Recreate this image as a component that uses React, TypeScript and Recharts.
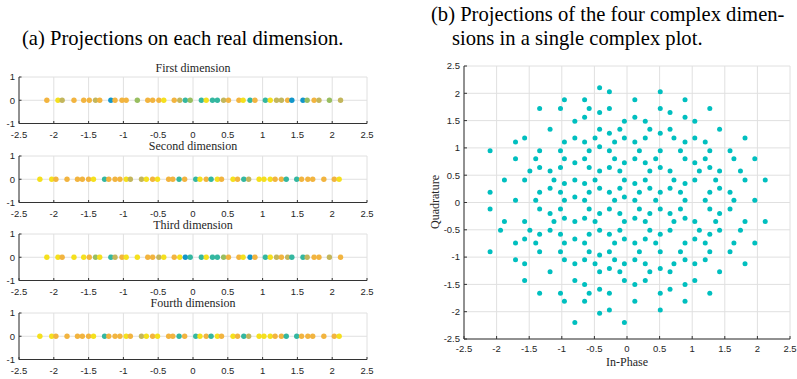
import React from "react";
import { ScatterChart, Scatter, XAxis, YAxis, CartesianGrid } from "recharts";

// distinct in-phase / quadrature levels seen in the projections
const inPhase = [
  -2.1, -1.94, -1.88, -1.71, -1.57, -1.49, -1.4, -1.34, -1.18, -1.12, -1.02, -0.96, -0.8, -0.65, -0.58,
  -0.49, -0.42, -0.27, -0.19, -0.11, -0.04, 0.12, 0.19, 0.28, 0.35, 0.44, 0.51, 0.66, 0.72, 0.82, 0.89,
  1.04, 1.11, 1.2, 1.27, 1.36, 1.42, 1.58, 1.64, 1.74, 1.81, 1.96, 2.12,
];
const quadrature = [
  -2.2, -2.03, -1.97, -1.81, -1.66, -1.59, -1.5, -1.43, -1.27, -1.21, -1.12, -1.05, -0.96, -0.9, -0.74,
  -0.67, -0.58, -0.51, -0.35, -0.29, -0.2, -0.12, 0.04, 0.1, 0.19, 0.26, 0.35, 0.41, 0.575, 0.64, 0.73,
  0.8, 0.95, 1.02, 1.11, 1.18, 1.27, 1.34, 1.49, 1.56, 1.65, 1.72, 1.88, 2.03, 2.1,
];

// colour class of each dot in the four strips (Y yellow, O orange, L olive, G green, T teal, B blue)
const dim1Tone = "OYLOOOLOBOOOGOOOYOLTGTYTTLOOYTOTYLLOBBGOLGL";
const dim2Tone = "YYOOOOOYTOOOYLLYOYOOTOTYOTYOYOTLYYYOOTTOOOOOY";
const dim3Tone = "YYOYYOGYTLOYYOOLYOYBTTYTTGOOYBOTYLOLTTLOOLO";
const dim4Tone = "YYOOOOOYTOOOYOLYOYOOTOTYOTYOYOTLYYYOOTTOOOOOY";

// quadrature values found above each in-phase level (same order as inPhase)
const quadByColumn = [
  [0.95, 0.19, -0.12, -0.9],
  [-0.51],
  [0.41, -0.35],
  [1.11, 0.8, 0.04, -0.74, -1.05],
  [1.18, 0.41, -0.35, -0.67, -1.12, -1.43],
  [0.575, -0.51],
  [0.8, 0.04, -0.74],
  [1.72, 0.95, 0.64, 0.19, -0.12, -0.58, -0.9, -1.66],
  [1.34, 0.575, 0.26, -0.2, -0.51, -1.27],
  [0.41, -0.35],
  [1.72, 0.95, 0.64, 0.19, -0.12, -0.58, -0.9, -1.66],
  [1.88, 1.11, 0.8, 0.35, 0.04, -0.29, -0.74, -1.05, -1.81],
  [1.49, 1.18, 0.73, 0.41, 0.1, -0.35, -0.67, -1.12, -1.43, -2.2],
  [1.88, 1.56, 1.11, 0.8, 0.35, 0.04, -0.29, -0.74, -1.05, -1.5, -1.81],
  [1.72, 0.95, 0.64, 0.19, -0.12, -0.58, -0.9, -1.66],
  [1.18, 0.41, -0.35, -1.12],
  [2.1, 1.65, 1.34, 1.02, 0.575, 0.26, -0.2, -0.51, -0.96, -1.27, -1.59, -2.03],
  [2.03, 1.72, 1.27, 0.95, 0.64, 0.19, -0.12, -0.58, -0.9, -1.21, -1.66, -1.97],
  [1.11, 0.8, 0.04, -0.74, -1.05],
  [1.34, 0.575, 0.26, -0.2, -0.51, -1.27],
  [1.49, 1.18, 0.73, 0.41, 0.1, -0.35, -0.67, -1.12, -1.43, -2.2],
  [1.88, 1.56, 1.11, 0.8, 0.35, 0.04, -0.29, -0.74, -1.05, -1.5, -1.81],
  [0.95, 0.19, -0.12, -0.9],
  [1.49, 1.18, 0.73, 0.41, -0.35, -0.67, -1.12, -1.43],
  [1.34, 0.575, 0.26, -0.2, -0.51, -1.27],
  [0.8, 0.04, -0.74],
  [2.03, 1.72, 1.27, 0.95, 0.64, 0.19, -0.12, -0.58, -0.9, -1.21, -1.66, -1.97],
  [1.65, 1.34, 0.575, 0.26, -0.2, -0.51, -1.27, -1.59],
  [1.18, 0.41, -0.35, -1.12],
  [0.95, 0.19, -0.12, -0.9],
  [1.88, 1.56, 1.11, 0.8, 0.35, 0.04, -0.29, -0.74, -1.05, -1.5, -1.81],
  [1.49, 1.18, 0.73, 0.41, -0.35, -0.67, -1.12, -1.43],
  [0.575, -0.51],
  [1.11, 0.8, 0.04, -0.74, -1.05],
  [1.72, 0.95, 0.64, 0.19, -0.12, -0.58, -0.9, -1.66],
  [0.41, -0.35],
  [1.34, 0.575, 0.26, -0.2, -0.51, -1.27],
  [0.95, 0.19, -0.12, -0.9],
  [0.8, 0.04, -0.74],
  [0.575, -0.51],
  [1.18, 0.41, -0.35, -1.12],
  [0.8, 0.04, -0.74],
  [0.41, -0.35],
];

const halfTicks = [-2.5, -2, -1.5, -1, -0.5, 0, 0.5, 1, 1.5, 2, 2.5];
const stripTicks = [-1, 0, 1];

const palette: Record<string, string> = {
  Y: "#f5e01d",
  O: "#f2b43f",
  L: "#c3b65b",
  G: "#98be60",
  T: "#34b7a0",
  B: "#1196ca",
};
const DOT = "#00bfbf";
const GRID = "#e0e0e0";
const AXIS = "#333333";
const tickStyle = { fontSize: 9.5, fill: "#262626", fontFamily: "Liberation Sans, Arial, sans-serif" };
const serif = '"Liberation Serif", "Times New Roman", serif';

function Strip({ top, title, values, tones }: { top: number; title: string; values: number[]; tones: string }) {
  const data = values.map((v, i) => ({ x: v, y: 0, color: palette[tones[i]] }));
  return (
    <div style={{ position: "absolute", left: 0, top: top - 22, width: 400, height: 85 }}>
      <div
        style={{
          position: "absolute",
          left: 19,
          width: 348,
          top: 5.5,
          textAlign: "center",
          fontFamily: serif,
          fontSize: 12,
          lineHeight: "14px",
          color: "#262626",
        }}
      >
        {title}
      </div>
      <ScatterChart width={400} height={85} margin={{ top: 22, right: 33, left: 0, bottom: 0 }}>
        <CartesianGrid stroke={GRID} />
        <XAxis
          type="number"
          dataKey="x"
          domain={[-2.5, 2.5]}
          ticks={halfTicks}
          interval={0}
          height={16.5}
          tickSize={-2.5}
          tickMargin={10.5}
          tick={tickStyle}
          axisLine={{ stroke: AXIS }}
          tickLine={{ stroke: AXIS }}
        />
        <YAxis
          type="number"
          dataKey="y"
          domain={[-1, 1]}
          ticks={stripTicks}
          interval={0}
          width={19}
          tickSize={-2.5}
          tickMargin={6.5}
          tick={tickStyle}
          axisLine={{ stroke: AXIS }}
          tickLine={{ stroke: AXIS }}
        />
        <Scatter
          data={data}
          isAnimationActive={false}
          shape={(p: any) => <circle cx={p.cx} cy={p.cy} r={2.7} fill={p.payload.color} />}
        />
      </ScatterChart>
    </div>
  );
}

export default function App() {
  const points = inPhase.flatMap((x, i) => quadByColumn[i].map((y) => ({ x, y })));
  return (
    <div style={{ position: "absolute", left: 0, top: 0, width: 797, height: 379, background: "#fff", color: "#000" }}>
      <div style={{ position: "absolute", left: 22, top: 26, fontFamily: serif, fontSize: 20.6, lineHeight: "24px", whiteSpace: "nowrap" }}>
        (a) Projections on each real dimension.
      </div>
      <div style={{ position: "absolute", left: 431, top: 2, fontFamily: serif, fontSize: 20.6, lineHeight: "24px", whiteSpace: "nowrap" }}>
        (b) Projections of the four complex dimen-
      </div>
      <div style={{ position: "absolute", left: 452, top: 26, fontFamily: serif, fontSize: 20.6, lineHeight: "24px", whiteSpace: "nowrap" }}>
        sions in a single complex plot.
      </div>

      <Strip top={77} title="First dimension" values={inPhase} tones={dim1Tone} />
      <Strip top={155.5} title="Second dimension" values={quadrature} tones={dim2Tone} />
      <Strip top={234} title="Third dimension" values={inPhase} tones={dim3Tone} />
      <Strip top={312.5} title="Fourth dimension" values={quadrature} tones={dim4Tone} />

      <div style={{ position: "absolute", left: 400, top: 50, width: 397, height: 329 }}>
        <ScatterChart width={397} height={329} margin={{ top: 16, right: 7, left: 0, bottom: 0 }}>
          <CartesianGrid stroke={GRID} />
          <XAxis
            type="number"
            dataKey="x"
            domain={[-2.5, 2.5]}
            ticks={halfTicks}
            interval={0}
            height={40}
            tickSize={-3}
            tickMargin={9.5}
            tick={tickStyle}
            axisLine={{ stroke: AXIS }}
            tickLine={{ stroke: AXIS }}
          />
          <YAxis
            type="number"
            dataKey="y"
            domain={[-2.5, 2.5]}
            ticks={halfTicks}
            interval={0}
            width={64}
            tickSize={-3}
            tickMargin={7}
            tick={tickStyle}
            axisLine={{ stroke: AXIS }}
            tickLine={{ stroke: AXIS }}
          />
          <Scatter
            data={points}
            isAnimationActive={false}
            shape={(p: any) => <circle cx={p.cx} cy={p.cy} r={2.5} fill={DOT} />}
          />
        </ScatterChart>
      </div>
      <div
        style={{
          position: "absolute",
          left: 435,
          top: 202,
          fontFamily: serif,
          fontSize: 12,
          color: "#262626",
          transform: "translate(-50%, -50%) rotate(-90deg)",
          whiteSpace: "nowrap",
        }}
      >
        Quadrature
      </div>
      <div
        style={{
          position: "absolute",
          left: 627,
          top: 362,
          fontFamily: serif,
          fontSize: 12,
          color: "#262626",
          transform: "translate(-50%, -50%)",
          whiteSpace: "nowrap",
        }}
      >
        In-Phase
      </div>
    </div>
  );
}
